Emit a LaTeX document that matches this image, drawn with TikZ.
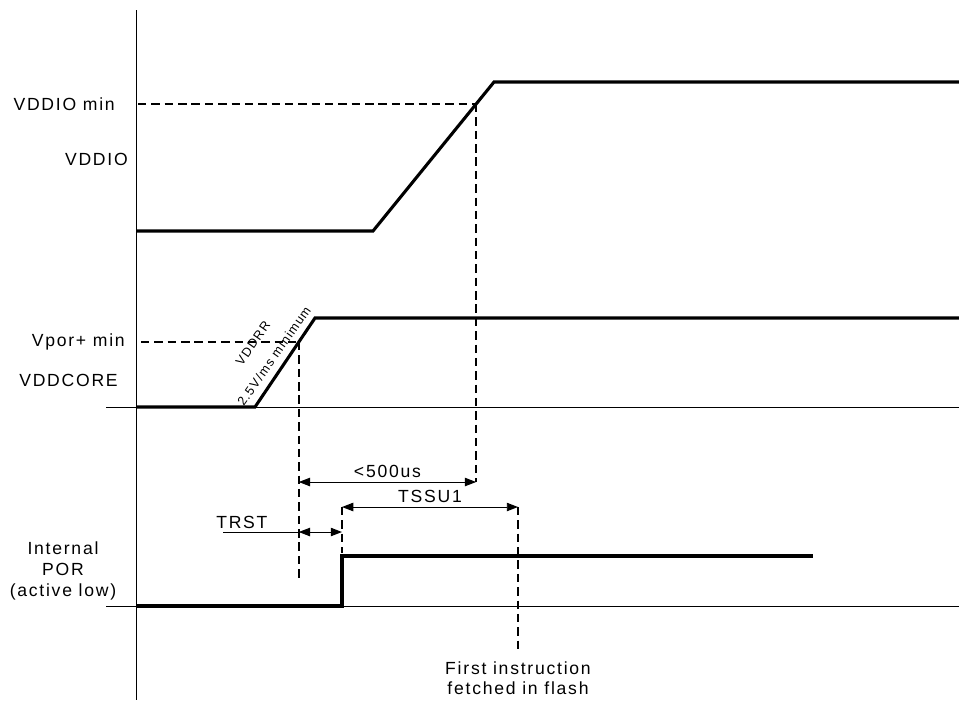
\documentclass[tikz,border=0pt]{standalone}
\usepackage{fontspec}
\setmainfont[LetterSpace=10]{Liberation Sans}
\usetikzlibrary{arrows.meta, positioning}

\begin{document}
\begin{tikzpicture}[
  x=0.025cm, y=-0.025cm,
  axis/.style={line width=0.7pt},
  baseline/.style={line width=0.7pt},
  signal/.style={line width=2.2pt, line join=miter},
  guide/.style={line width=1.5pt, dash pattern=on 6pt off 3.5pt},
  dim/.style={{Triangle[length=8pt,width=6pt]}-{Triangle[length=8pt,width=6pt]}, line width=0.7pt},
  lbl/.style={font=\fontsize{12.5}{15}\selectfont, inner sep=0pt, align=center},
  slope/.style={font=\fontsize{9}{11}\selectfont, inner sep=0pt, rotate=55}
]
  \useasboundingbox (0,0) rectangle (959,700);

  \def\axx{136}
  \def\yio{231}
  \def\yiohi{82}
  \def\ycore{407}
  \def\ycorehi{318}
  \def\ypor{606}
  \def\yporhi{556}
  \def\xrst{342}
  \def\xfetch{518}

  % time axis
  \coordinate (axtop) at (\axx,10);
  \coordinate (axbot) at (\axx,700);
  \draw[axis] (axtop) -- (axbot);

  % VDDIO
  \coordinate (io0) at (\axx,\yio);
  \coordinate (io1) at (373,\yio);
  \coordinate (io2) at (494,\yiohi);
  \coordinate (io3) at (959,\yiohi);
  \draw[signal] (io0) -- (io1) -- (io2) -- (io3);
  \path (io1) -- (io2) coordinate[pos=0.852] (iomin);
  \coordinate (iominL) at (138,0 |- iomin);
  \draw[guide] (iominL) -- (iomin);
  \coordinate (iomeas) at (iomin |- 0,482);
  \draw[guide] (iomin) -- (iomeas);

  % VDDCORE
  \coordinate (coreL) at (106,\ycore);
  \coordinate (coreR) at (959,\ycore);
  \draw[baseline] (coreL) -- (coreR);
  \coordinate (core0) at (\axx,\ycore);
  \coordinate (core1) at (255,\ycore);
  \coordinate (core2) at (315,\ycorehi);
  \coordinate (core3) at (959,\ycorehi);
  \draw[signal] (core0) -- (core1) -- (core2) -- (core3);
  \path (core1) -- (core2) coordinate[pos=0.73] (pormin);
  \coordinate (porminL) at (141,0 |- pormin);
  \draw[guide] (porminL) -- (pormin);
  \coordinate (pormeas) at (pormin |- 0,578);
  \draw[guide] (pormin) -- (pormeas);

  \node[slope] (vddrr) at (253,343) {VDDRR};
  \node[slope] (rate) at (274,356) {2.5V/ms minimum};

  % Internal POR
  \coordinate (porL) at (106,\ypor);
  \coordinate (porR) at (959,\ypor);
  \draw[baseline] (porL) -- (porR);
  \coordinate (por0) at (\axx,\ypor);
  \coordinate (por1) at (\xrst,\ypor);
  \coordinate (por2) at (\xrst,\yporhi);
  \coordinate (por3) at (813,\yporhi);
  \draw[signal] (por0) -- (por1) -- (por2) -- (por3);

  % timings
  \coordinate (us0) at (pormin |- 0,482);
  \draw[dim] (us0) -- node[lbl, above=2.5pt] (uslbl) {<500us} (iomeas);

  \coordinate (ssu0) at (\xrst,507);
  \coordinate (ssu1) at (\xfetch,507);
  \draw[dim] (ssu0) -- node[lbl, above=2.5pt] (ssulbl) {TSSU1} (ssu1);
  \coordinate (rstbot) at (\xrst,553);
  \draw[guide] (ssu0) -- (rstbot);
  \coordinate (fetchbot) at (\xfetch,652);
  \draw[guide] (ssu1) -- (fetchbot);

  \coordinate (rstlead) at (223,532);
  \coordinate (rst0) at (pormin |- 0,532);
  \coordinate (rst1) at (\xrst,532);
  \draw[baseline] (rstlead) -- (rst0);
  \draw[dim] (rst0) -- (rst1);
  \node[lbl, above right=2.5pt and -5pt of rstlead] (rstlbl) {TRST};

  % labels
  \node[lbl, anchor=east] (lioMin) at (115,104) {VDDIO min};
  \node[lbl, anchor=east] (lio) at (128,159) {VDDIO};
  \node[lbl, anchor=east] (lporMin) at (125,342) {Vpor+ min};
  \node[lbl, anchor=east] (lcore) at (118,380) {VDDCORE};
  \node[lbl, font=\fontsize{12.5}{15}\selectfont] (lpor) at (63,571) {Internal\\POR\\(active low)};
  \node[lbl, font=\fontsize{12.5}{14.2}\selectfont] (lfetch) at (\xfetch,678) {First instruction\\fetched in flash};
\end{tikzpicture}
\end{document}
